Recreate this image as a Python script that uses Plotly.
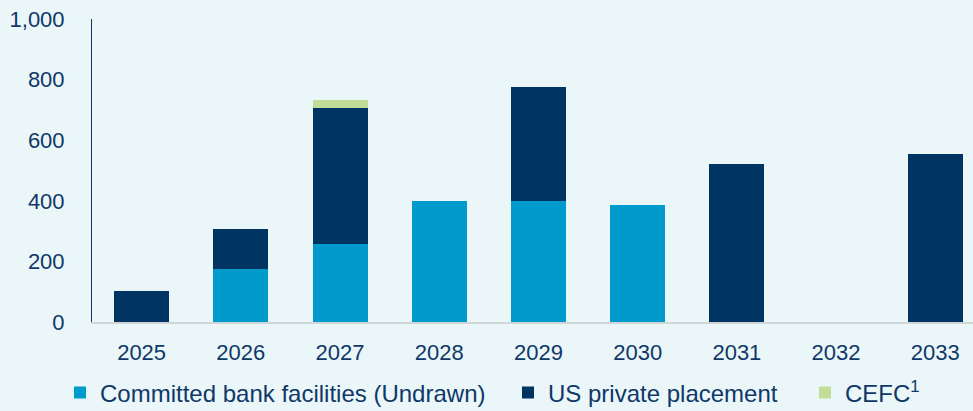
import plotly.graph_objects as go

# Debt maturity profile ($m) by financial year
years = ["2025", "2026", "2027", "2028", "2029", "2030", "2031", "2032", "2033"]
bank_facilities = [0, 175, 256, 398, 401, 385, 0, 0, 0]
us_private_placement = [102, 131, 451, 0, 375, 0, 520, 0, 553]
cefc = [0, 0, 26, 0, 0, 0, 0, 0, 0]

y_ticks = [0, 200, 400, 600, 800, 1000]
y_tick_labels = ["0", "200", "400", "600", "800", "1,000"]

BG = "#EBF6F9"
TEXT = "#0F3868"
FONT = "Liberation Sans, Arial, sans-serif"

fig = go.Figure()
fig.add_trace(go.Bar(x=years, y=bank_facilities, name="Committed bank facilities (Undrawn)",
                     marker=dict(color="#009ACD", line=dict(width=0)), legend="legend"))
fig.add_trace(go.Bar(x=years, y=us_private_placement, name="US private placement",
                     marker=dict(color="#003462", line=dict(width=0)), legend="legend2"))
fig.add_trace(go.Bar(x=years, y=cefc, name="CEFC<sup>1</sup>",
                     marker=dict(color="#C2DD98", line=dict(width=0)), legend="legend3"))

leg_common = dict(orientation="h", xref="container", yref="container", yanchor="middle",
                  xanchor="left", y=0.044, bgcolor="rgba(0,0,0,0)",
                  font=dict(family=FONT, size=24, color=TEXT), itemwidth=30)

W = 973
fig.update_layout(
    width=973, height=411,
    showlegend=True,
    barmode="stack", bargap=0.446,
    paper_bgcolor=BG, plot_bgcolor=BG,
    margin=dict(l=92, r=0, t=19, b=89),
    font=dict(family=FONT, color=TEXT, size=22),
    legend=dict(leg_common, x=60 / W),
    legend2=dict(leg_common, x=508 / W),
    legend3=dict(leg_common, x=805 / W),
    xaxis=dict(type="category", range=[-0.5, 8.38], showgrid=False,
               showline=True, linecolor="#D0D5D8", linewidth=2,
               ticks="", ticklabelstandoff=10,
               tickfont=dict(family=FONT, size=22, color=TEXT)),
    yaxis=dict(range=[0, 1000], tickvals=y_ticks, ticktext=y_tick_labels,
               showgrid=False, zeroline=False, showline=True,
               linecolor=TEXT, linewidth=1, ticks="",
               ticklabelstandoff=22,
               tickfont=dict(family=FONT, size=22, color=TEXT)),
)

fig.write_html("out.html")
